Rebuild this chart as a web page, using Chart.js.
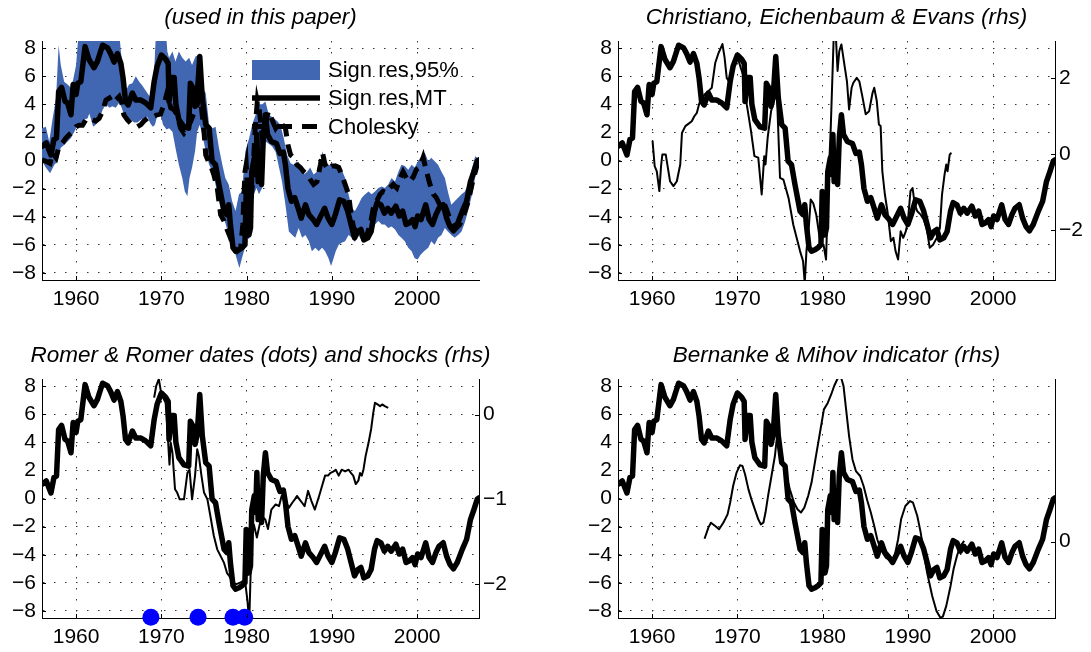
<!DOCTYPE html>
<html><head><meta charset="utf-8">
<script src="https://cdn.jsdelivr.net/npm/chart.js@4.4.1/dist/chart.umd.min.js"></script>
<style>
html,body{margin:0;padding:0;background:#fff;width:1091px;height:652px;overflow:hidden}
canvas{position:absolute}
</style></head><body>
<canvas id="c1" width="521" height="330" style="left:0;top:0"></canvas>
<canvas id="c2" width="509" height="330" style="left:582px;top:0"></canvas>
<canvas id="c3" width="521" height="314" style="left:0;top:338px"></canvas>
<canvas id="c4" width="509" height="314" style="left:582px;top:338px"></canvas>
<script>
// ---------------- data ----------------
const yearTicks = [1960, 1970, 1980, 1990, 2000];
const leftTicks = [-8, -6, -4, -2, 0, 2, 4, 6, 8];
const ceeTicks = [-2, 0, 2];
const romerTicks = [-2, -1, 0];
const bmTicks = [0];

const panelTitles = ['(used in this paper)', 'Christiano, Eichenbaum & Evans (rhs)',
  'Romer & Romer dates (dots) and shocks (rhs)', 'Bernanke & Mihov indicator (rhs)'];
const legendLabels = ['Sign res,95%', 'Sign res,MT', 'Cholesky'];

// Sign restrictions, median target (thick line, all panels)
const mtYears = [1956.0,1956.5,1957.05,1957.4,1957.7,1957.95,1958.3,1958.7,1959.0,1959.4,1959.65,1960.0,1960.2,1960.55,1961.05,1961.5,1962.1,1962.5,1963.1,1963.7,1964.05,1964.45,1964.85,1965.25,1965.5,1965.8,1966.1,1966.6,1967.0,1967.6,1968.15,1968.75,1969.15,1969.5,1970.0,1970.5,1970.8,1970.9,1971.2,1971.5,1971.7,1972.05,1972.65,1973.2,1973.4,1973.7,1973.95,1974.2,1974.5,1974.8,1975.2,1975.6,1975.95,1976.35,1976.75,1977.35,1977.7,1977.9,1978.1,1978.4,1978.7,1979.1,1979.45,1979.8,1979.95,1980.1,1980.27,1980.45,1980.6,1980.9,1981.05,1981.2,1981.35,1981.55,1981.75,1981.95,1982.2,1982.45,1982.9,1983.5,1983.9,1984.3,1984.55,1984.85,1985.25,1985.65,1986.05,1986.4,1986.9,1987.3,1987.8,1988.2,1988.7,1989.15,1989.55,1990.0,1990.4,1990.9,1991.4,1991.85,1992.25,1992.65,1993.05,1993.4,1993.75,1994.2,1994.6,1995.0,1995.3,1995.75,1996.15,1996.55,1996.95,1997.5,1997.9,1998.3,1998.7,1999.05,1999.45,1999.75,2000.05,2000.45,2001.0,2001.4,2001.8,2002.2,2002.55,2003.05,2003.45,2003.85,2004.25,2004.7,2005.3,2005.8,2006.25,2006.65,2007.05,2007.25];
const mtValues = [1.0,1.25,0.4,1.5,1.6,4.9,5.2,4.2,4.1,3.25,5.4,4.7,5.5,5.6,8.1,7.2,6.6,7.05,8.2,8.0,7.6,7.0,7.6,6.9,5.9,4.2,3.95,4.8,4.3,4.3,4.1,3.75,5.6,6.7,7.5,7.2,6.9,4.2,5.9,5.9,4.0,2.9,2.4,2.3,5.5,5.15,3.85,4.55,7.4,4.45,2.55,2.3,-0.05,-0.3,-1.7,-3.6,-3.85,-3.15,-4.6,-6.2,-6.45,-6.35,-6.2,-6.0,-2.2,-2.3,-5.3,-4.8,-0.8,0.2,-1.0,1.85,-1.5,-0.05,-1.7,1.6,3.25,1.85,1.35,1.2,0.5,0.6,-0.3,-2.0,-2.9,-2.65,-3.4,-4.1,-3.15,-3.85,-4.2,-4.55,-3.95,-3.4,-4.1,-4.55,-3.85,-2.8,-2.9,-3.6,-4.55,-5.5,-5.05,-4.9,-5.65,-5.5,-5.05,-3.6,-3.0,-3.15,-3.75,-3.4,-3.75,-3.25,-3.95,-3.6,-4.55,-4.45,-4.2,-4.7,-3.95,-4.2,-3.15,-4.2,-4.55,-3.85,-3.4,-3.15,-4.1,-4.7,-5.0,-4.55,-3.6,-2.9,-1.5,-0.8,-0.05,0.05];

// Cholesky (dashed, panel 1)
const cholYears = [1956.0,1956.45,1956.95,1957.25,1957.65,1957.95,1958.4,1958.8,1959.2,1959.6,1960.0,1960.35,1960.75,1961.15,1961.55,1961.95,1962.3,1962.7,1963.1,1963.5,1963.9,1964.25,1964.65,1965.05,1965.35,1965.6,1966.0,1966.4,1966.8,1967.2,1967.6,1967.95,1968.35,1968.75,1969.15,1969.5,1969.9,1970.3,1970.7,1970.9,1971.1,1971.5,1971.85,1972.25,1972.65,1973.05,1973.45,1973.8,1974.2,1974.5,1974.7,1975.0,1975.2,1975.5,1975.75,1976.15,1976.55,1976.95,1977.35,1977.7,1978.1,1978.5,1978.9,1979.3,1979.55,1979.8,1979.95,1980.2,1980.5,1980.75,1981.0,1981.25,1981.5,1981.85,1982.15,1982.55,1982.9,1983.4,1983.8,1984.15,1984.55,1984.85,1985.15,1985.5,1985.9,1986.3,1986.7,1987.1,1987.45,1987.85,1988.25,1988.65,1988.9,1989.2,1989.6,1990.0,1990.4,1990.8,1991.15,1991.55,1991.95,1992.25,1992.55,1992.9,1993.3,1993.7,1994.1,1994.5,1994.85,1995.25,1995.65,1996.0,1996.4,1996.8,1997.2,1997.6,1998.0,1998.35,1998.75,1999.15,1999.55,1999.9,2000.3,2000.7,2001.1,2001.5,2001.9,2002.25,2002.65,2003.05,2003.4,2003.8,2004.2,2004.6,2005.0,2005.5,2006.0,2006.5,2007.0,2007.25];
const cholValues = [0.05,-0.05,-0.2,0.55,0.2,0.9,1.25,1.6,1.85,2.05,2.4,2.5,2.5,2.9,3.0,2.9,2.8,3.0,3.5,4.3,4.45,4.1,4.3,4.55,4.1,3.25,2.9,2.65,2.55,2.4,2.55,2.8,3.0,3.15,3.15,3.25,3.3,3.95,4.9,4.2,3.75,3.6,3.25,2.3,1.95,2.3,2.8,3.35,3.95,4.55,3.75,2.05,0.4,-0.05,-0.3,-1.0,-1.95,-3.85,-4.3,-4.9,-5.5,-6.2,-6.45,-6.2,-4.55,-0.8,-0.3,-3.4,-3.15,-0.8,2.3,4.2,3.5,1.6,2.55,3.5,3.0,2.3,2.65,2.55,2.3,1.1,0.4,0.2,-0.3,-0.5,-0.8,-1.0,-1.35,-1.7,-1.5,-0.3,0.55,-0.3,-0.65,-0.4,-0.4,-0.5,-1.0,-1.7,-2.4,-3.85,-4.8,-5.05,-5.05,-5.5,-5.3,-4.55,-3.4,-2.9,-2.4,-2.2,-2.3,-1.95,-1.7,-1.95,-1.25,-0.8,-1.25,-1.5,-1.15,-0.65,-0.5,0.2,-0.8,-1.7,-2.4,-2.65,-3.15,-2.9,-3.4,-4.1,-4.55,-4.8,-4.55,-3.8,-2.9,-1.5,-0.4,0.0];

// 95% band, upper and lower edges (panel 1)
const bandUpperYears = [1956.0,1956.45,1956.85,1957.25,1957.65,1957.95,1958.2,1958.6,1959.0,1959.4,1959.65,1960.0,1960.35,1965.0,1965.25,1965.5,1965.8,1966.2,1966.6,1967.0,1967.4,1967.8,1968.35,1968.75,1969.15,1969.4,1970.5,1970.7,1970.9,1971.3,1971.65,1972.05,1972.45,1972.85,1973.25,1973.6,1974.0,1974.4,1974.6,1974.8,1975.2,1975.6,1976.0,1976.35,1976.75,1977.15,1977.5,1977.9,1978.3,1978.7,1979.1,1979.45,1979.85,1980.3,1980.65,1981.05,1981.45,1981.85,1982.2,1982.6,1983.2,1983.6,1983.95,1984.35,1984.75,1985.15,1985.5,1985.9,1986.3,1986.7,1987.1,1987.45,1987.85,1988.25,1988.65,1988.9,1989.2,1989.6,1990.0,1990.4,1990.8,1991.15,1991.55,1991.95,1992.35,1992.7,1993.1,1993.5,1993.9,1994.3,1994.65,1995.05,1995.45,1995.85,1996.2,1996.6,1997.0,1997.4,1997.8,1998.15,1998.55,1998.95,1999.35,1999.7,2000.1,2000.5,2000.9,2001.3,2001.65,2002.05,2002.45,2002.85,2003.25,2003.6,2004.0,2004.4,2004.8,2005.2,2005.6,2006.0,2006.4,2006.8,2007.25];
const bandUpperValues = [2.3,2.4,1.35,3.0,4.45,8.2,6.8,5.6,5.4,5.15,5.75,6.8,9.5,9.5,7.75,6.34,4.9,5.4,5.5,6.0,5.6,5.3,4.8,4.45,6.34,9.5,9.5,7.75,7.3,7.75,7.05,7.75,7.3,7.05,7.3,6.8,7.4,7.5,7.3,5.2,4.8,2.55,2.3,2.4,0.9,-0.3,-1.25,-1.7,-2.9,-3.6,-2.4,-2.2,0.65,1.6,2.55,3.25,4.0,4.0,4.2,3.25,3.0,2.8,2.55,1.6,0.4,-0.2,-0.3,-0.05,-0.5,-1.0,-0.8,-0.5,-1.0,-0.8,-0.3,0.65,-0.05,-0.3,-0.4,-0.2,-0.3,-0.65,-1.25,-2.4,-3.4,-3.6,-3.15,-2.65,-2.4,-2.2,-2.4,-2.2,-1.95,-1.85,-1.95,-1.7,-1.25,-1.5,-0.8,-0.3,-0.4,-0.65,-0.3,-0.5,-0.05,0.3,0.55,-0.05,0.2,-0.05,-0.3,-0.8,-1.25,-2.2,-3.15,-2.9,-2.65,-2.4,-2.2,-1.6,-0.6,0.3,0.1];
const bandLowerYears = [1956.0,1956.45,1956.95,1957.45,1957.85,1958.2,1958.6,1959.0,1959.4,1960.0,1960.35,1960.95,1961.35,1961.55,1962.0,1962.3,1962.7,1963.1,1963.5,1963.9,1964.25,1964.65,1965.05,1965.35,1965.6,1966.0,1966.4,1966.8,1967.2,1967.6,1967.95,1968.35,1968.75,1969.0,1969.25,1969.5,1969.9,1970.2,1970.6,1970.9,1971.3,1971.65,1972.05,1972.45,1972.75,1973.05,1973.3,1973.6,1973.95,1974.2,1974.5,1974.8,1975.2,1975.6,1976.0,1976.35,1976.75,1977.15,1977.5,1977.9,1978.3,1978.7,1979.15,1979.45,1979.8,1980.05,1980.3,1980.6,1980.85,1981.15,1981.45,1981.85,1982.2,1982.6,1983.0,1983.4,1983.8,1984.15,1984.55,1984.95,1985.35,1985.7,1986.1,1986.5,1986.9,1987.3,1987.65,1988.05,1988.45,1988.85,1989.2,1989.6,1989.9,1990.2,1990.45,1990.8,1991.15,1991.55,1991.95,1992.35,1992.7,1993.1,1993.5,1993.9,1994.3,1994.65,1995.05,1995.45,1995.85,1996.2,1996.6,1997.0,1997.4,1997.8,1998.15,1998.55,1998.95,1999.35,1999.7,2000.05,2000.4,2000.8,2001.3,2001.65,2002.05,2002.45,2002.85,2003.25,2003.6,2004.0,2004.4,2004.8,2005.2,2005.6,2006.0,2006.4,2006.8,2007.25];
const bandLowerValues = [-0.05,-0.5,-0.9,-0.3,-0.05,0.9,1.1,1.35,1.6,2.3,2.55,2.9,3.0,3.35,2.4,2.55,2.9,3.6,4.0,3.75,3.85,3.75,4.1,3.75,3.25,3.0,2.9,2.7,2.7,2.9,3.0,3.1,2.6,2.4,2.55,3.15,3.25,2.55,2.2,2.3,2.05,0.9,-0.3,-1.25,-2.2,-2.55,-1.25,-0.5,0.65,2.05,2.55,1.85,0.65,-0.3,-0.8,-1.7,-2.9,-3.85,-4.45,-5.3,-6.0,-6.7,-7.65,-6.95,-6.2,-5.5,-5.6,-1.7,-2.4,-1.95,-2.4,-1.9,1.35,1.2,1.0,0.6,-0.5,-1.5,-3.15,-5.05,-5.3,-5.5,-4.8,-5.5,-5.3,-5.75,-6.45,-6.2,-6.45,-6.2,-6.45,-6.95,-7.5,-6.95,-6.45,-6.0,-5.85,-5.75,-5.3,-5.5,-5.8,-5.3,-5.7,-5.8,-5.6,-5.3,-4.55,-4.3,-4.55,-4.55,-4.8,-4.7,-4.9,-5.3,-5.5,-5.75,-6.2,-6.45,-6.95,-7.05,-6.7,-6.45,-6.2,-5.75,-6.0,-5.5,-5.3,-4.8,-5.05,-5.3,-5.5,-5.3,-5.05,-4.4,-3.5,-2.5,-1.2,-0.3];

// Christiano, Eichenbaum & Evans shocks (rhs, panel 2)
const ceeYears = [1960.05,1960.3,1960.55,1960.85,1961.05,1961.2,1961.6,1961.85,1962.1,1962.5,1962.9,1963.3,1963.5,1963.9,1964.25,1964.65,1964.95,1965.25,1965.5,1965.8,1966.15,1966.6,1967.0,1967.4,1967.8,1968.25,1968.5,1968.75,1969.0,1969.35,1969.65,1970.05,1970.4,1970.8,1971.1,1971.6,1972.0,1972.45,1972.85,1973.15,1973.3,1973.55,1973.95,1974.3,1974.6,1975.0,1975.4,1976.0,1976.55,1976.95,1977.35,1977.7,1977.9,1978.1,1978.4,1978.6,1978.9,1979.25,1979.65,1979.85,1980.1,1980.4,1980.65,1980.95,1981.3,1981.55,1981.75,1981.95,1982.2,1982.55,1982.85,1983.1,1983.4,1983.6,1984.0,1984.3,1984.65,1985.05,1985.45,1985.85,1986.05,1986.35,1986.6,1986.8,1987.0,1987.3,1987.6,1988.0,1988.3,1988.55,1988.85,1989.15,1989.45,1989.75,1990.0,1990.3,1990.55,1990.8,1991.1,1991.5,1991.85,1992.2,1992.55,1992.95,1993.4,1993.75,1994.0,1994.3,1994.5,1994.65,1994.9,1995.1];
const ceeValues = [0.35,-0.32,-0.46,-0.98,-0.32,-0.02,-0.02,-0.37,-0.72,-0.85,-0.72,-0.28,0.55,0.73,0.79,0.86,0.99,1.08,1.3,1.47,1.56,1.65,1.74,2.39,2.66,2.89,2.53,2.0,1.91,2.09,2.35,2.53,2.26,2.0,1.3,0.6,-0.06,-0.1,-1.07,-0.06,-0.28,0.42,1.12,1.4,1.8,-0.63,-0.68,-1.16,-1.86,-2.21,-2.56,-2.82,-3.4,-2.56,-1.86,-1.2,-1.3,-1.6,-2.21,-2.4,-2.39,-2.78,-0.9,0.68,3.1,3.1,2.18,2.7,2.88,2.35,1.91,1.17,1.74,1.87,2.0,1.91,1.52,1.04,1.12,1.6,1.74,1.39,0.77,0.73,-0.46,-1.07,-1.51,-2.3,-2.21,-2.56,-2.78,-2.04,-2.21,-2.04,-1.77,-0.98,-0.9,-1.33,-1.51,-1.6,-1.73,-1.95,-2.47,-2.39,-2.21,-1.95,-1.07,-0.54,-0.28,-0.46,-0.02,0.03];

// Romer & Romer shocks (rhs, panel 3) and dates (dots)
const romerYears = [1969.15,1969.4,1969.7,1969.9,1970.1,1970.5,1970.75,1970.95,1971.1,1971.3,1971.6,1971.85,1972.15,1972.65,1973.05,1973.3,1973.6,1973.95,1974.2,1974.4,1974.7,1975.0,1975.4,1975.75,1976.15,1976.55,1976.95,1977.35,1977.7,1978.0,1978.3,1978.8,1979.3,1979.8,1980.1,1980.3,1980.6,1980.85,1981.2,1981.5,1981.8,1982.2,1982.5,1982.9,1983.4,1983.8,1984.1,1984.5,1984.95,1985.35,1985.65,1985.9,1986.2,1986.5,1986.8,1987.2,1987.6,1988.0,1988.25,1988.5,1988.85,1989.2,1989.55,1989.8,1990.2,1990.45,1990.8,1991.15,1991.55,1991.95,1992.25,1992.5,1992.8,1993.1,1993.3,1993.5,1993.7,1993.95,1994.3,1994.6,1994.85,1995.05,1995.35,1995.65,1995.9,1996.2,1996.6];
const romerValues = [0.2,0.34,0.42,0.3,0.22,0.14,-0.25,-0.59,-0.33,-0.45,-0.88,-0.92,-1.0,-1.0,-0.69,-0.65,-1.0,-0.72,-0.41,-0.49,-0.72,-0.92,-1.0,-1.2,-1.43,-1.59,-1.67,-1.75,-1.87,-1.91,-1.98,-2.0,-1.98,-1.95,-2.2,-2.45,-1.43,-1.3,-1.45,-1.31,-1.2,-1.24,-1.35,-1.12,-1.06,-1.08,-0.96,-1.0,-1.1,-1.04,-1.0,-0.96,-1.0,-1.04,-1.08,-0.9,-1.02,-1.12,-1.04,-0.96,-0.84,-0.72,-0.72,-0.69,-0.67,-0.65,-0.72,-0.65,-0.67,-0.65,-0.69,-0.72,-0.82,-0.78,-0.69,-0.72,-0.65,-0.49,-0.33,-0.17,0.02,0.14,0.12,0.1,0.12,0.1,0.08];
const romerDates = [1968.77, 1974.3, 1978.4, 1979.77];
const romerDateLevel = -8.45;

// Bernanke & Mihov indicator (rhs, panel 4)
const bmYears = [1966.15,1966.6,1966.9,1967.4,1967.85,1968.35,1968.85,1969.15,1969.5,1969.9,1970.3,1970.6,1970.9,1971.3,1971.65,1972.05,1972.45,1972.75,1973.05,1973.3,1973.6,1974.0,1974.4,1974.7,1975.0,1975.4,1975.75,1976.15,1976.65,1977.05,1977.45,1977.85,1978.3,1978.7,1979.15,1979.65,1980.15,1980.6,1981.0,1981.35,1981.75,1982.15,1982.45,1982.75,1983.1,1983.5,1983.9,1984.4,1984.8,1985.25,1985.65,1986.05,1986.4,1986.8,1987.4,1988.0,1988.45,1988.85,1989.2,1989.7,1990.25,1990.6,1991.1,1991.5,1991.85,1992.25,1992.85,1993.35,1993.8,1994.1,1994.5,1995.0,1995.35,1995.75,1996.15,1996.6];
const bmValues = [0.21,1.0,1.35,1.11,0.88,1.35,1.94,2.77,3.96,4.91,5.43,5.38,4.79,3.72,3.01,2.3,1.59,1.23,1.35,2.07,3.25,4.67,6.09,7.75,6.68,5.62,4.67,3.72,2.77,2.3,2.07,2.42,3.25,4.2,5.85,7.63,9.41,9.87,10.47,11.07,11.6,11.7,11.07,9.41,7.51,5.85,5.02,4.67,3.96,2.89,2.07,1.12,0.17,-0.53,-1.13,-1.37,-1.02,0.17,1.59,2.54,2.89,2.77,1.83,0.64,-0.78,-2.2,-3.86,-4.93,-5.4,-5.33,-4.57,-3.15,-1.97,-1.02,-0.31,0.05];

// ---------------- style ----------------
const FONT = '"Liberation Sans", Arial, Helvetica, sans-serif';
const BAND_COLOR = '#4267b2';
const GRID_COLOR = '#333333';
const DOT = [1.5, 9.5];
const X_MIN = 1956, X_MAX = 2007.25;
const LEFT_MIN = -8.5, LEFT_MAX = 8.5;

function pts(xs, ys) { return xs.map((x, i) => ({x: x, y: ys[i]})); }
function fmt(v) { v = Number(v); return v < 0 ? '\u2212' + Math.abs(v) : String(v); }

const tickMarks = {
  id: 'tickMarks',
  afterDraw(chart) {
    const {ctx, chartArea: a, scales} = chart;
    ctx.save();
    ctx.strokeStyle = '#000'; ctx.lineWidth = 1; ctx.setLineDash([]);
    ctx.beginPath();
    scales.x.ticks.forEach(t => { const p = Math.round(scales.x.getPixelForValue(t.value)) + 0.5; ctx.moveTo(p, a.bottom); ctx.lineTo(p, a.bottom - 4); });
    scales.y.ticks.forEach(t => { const p = Math.round(scales.y.getPixelForValue(t.value)) + 0.5; ctx.moveTo(a.left, p); ctx.lineTo(a.left + 4, p); });
    if (scales.y1 && scales.y1.options.border.display) scales.y1.ticks.forEach(t => { const p = Math.round(scales.y1.getPixelForValue(t.value)) + 0.5; ctx.moveTo(a.right, p); ctx.lineTo(a.right - 4, p); });
    ctx.stroke();
    ctx.restore();
  }
};

const insideLegend = {
  id: 'insideLegend',
  afterDraw(chart) {
    const {ctx, chartArea: a} = chart;
    const x0 = a.left + 210, x1 = a.left + 278, tx = a.left + 286;
    const rows = [a.top + 29, a.top + 57, a.top + 85.5];
    ctx.save();
    ctx.fillStyle = BAND_COLOR;
    ctx.fillRect(x0, rows[0] - 10, x1 - x0, 20);
    ctx.strokeStyle = '#000';
    ctx.lineWidth = 5.5; ctx.setLineDash([]);
    ctx.beginPath(); ctx.moveTo(x0, rows[1]); ctx.lineTo(x1, rows[1]); ctx.stroke();
    ctx.lineWidth = 5; ctx.setLineDash([15, 10]);
    ctx.beginPath(); ctx.moveTo(x0, rows[2]); ctx.lineTo(x1, rows[2]); ctx.stroke();
    ctx.setLineDash([]);
    ctx.fillStyle = '#000';
    ctx.font = '22px ' + FONT;
    ctx.textBaseline = 'middle'; ctx.textAlign = 'left';
    legendLabels.forEach((t, i) => ctx.fillText(t, tx, rows[i] + 1));
    ctx.restore();
  }
};

function makeScales(o) {
  const tickFont = {family: FONT, size: 21};
  const s = {
    x: {
      type: 'linear', min: X_MIN, max: X_MAX, position: 'bottom',
      afterBuildTicks: sc => { sc.ticks = yearTicks.map(v => ({value: v})); },
      afterFit: sc => { sc.height = o.xH; },
      ticks: {font: tickFont, color: '#000', padding: 7, autoSkip: false, maxRotation: 0, callback: v => String(v)},
      grid: {color: GRID_COLOR, lineWidth: 1, drawTicks: false},
      border: {display: true, color: '#000', width: 1, dash: DOT}
    },
    y: {
      type: 'linear', position: 'left', min: LEFT_MIN, max: LEFT_MAX,
      afterBuildTicks: sc => { sc.ticks = leftTicks.map(v => ({value: v})); },
      afterFit: sc => { sc.width = o.leftW; },
      ticks: {font: tickFont, color: '#000', padding: 6, autoSkip: false, callback: v => fmt(v)},
      grid: {color: GRID_COLOR, lineWidth: 1, drawTicks: false},
      border: {display: true, color: '#000', width: 1, dash: DOT}
    }
  };
  if (o.right) {
    s.y1 = {
      type: 'linear', position: 'right', min: o.right.min, max: o.right.max,
      afterBuildTicks: sc => { sc.ticks = o.right.ticks.map(v => ({value: v})); },
      afterFit: sc => { sc.width = o.rightW; },
      ticks: {font: tickFont, color: '#000', padding: 4, autoSkip: false, callback: v => fmt(v)},
      grid: {drawOnChartArea: false, drawTicks: false},
      border: {display: true, color: '#000', width: 1}
    };
  } else {
    // empty spacer on the right so the panel keeps the same plot box as the panel below it
    s.y1 = {
      type: 'linear', position: 'right', min: LEFT_MIN, max: LEFT_MAX,
      afterBuildTicks: sc => { sc.ticks = []; },
      afterFit: sc => { sc.width = o.rightW; },
      ticks: {display: false},
      grid: {display: false, drawTicks: false},
      border: {display: false}
    };
  }
  return s;
}

function makeChart(id, o) {
  return new Chart(document.getElementById(id), {
    type: 'line',
    data: {datasets: o.datasets},
    options: {
      responsive: false, animation: false, devicePixelRatio: 1, events: [],
      layout: {padding: 0},
      scales: makeScales(o),
      plugins: {
        legend: {display: false}, tooltip: {enabled: false},
        title: {display: true, text: o.title, color: '#000',
          font: {family: FONT, size: 22.5, style: 'italic', weight: 'normal'},
          padding: {top: 4, bottom: 10}}
      }
    },
    plugins: o.plugins
  });
}

const mtSet = () => ({label: 'Sign res,MT', data: pts(mtYears, mtValues), borderColor: '#000', borderWidth: 5.5,
  pointRadius: 0, fill: false, tension: 0, borderJoinStyle: 'round', borderCapStyle: 'round', order: 2, yAxisID: 'y'});
const thinSet = (label, xs, ys) => ({label: label, data: pts(xs, ys), borderColor: '#000', borderWidth: 2,
  pointRadius: 0, fill: false, tension: 0, borderJoinStyle: 'round', order: 1, yAxisID: 'y1'});

// Panel 1
const bandPolygon = pts(bandUpperYears, bandUpperValues).concat(pts(bandLowerYears, bandLowerValues).reverse());
makeChart('c1', {
  title: panelTitles[0], leftW: 42, rightW: 42, xH: 50,
  datasets: [
    {label: legendLabels[0], data: bandPolygon, fill: 'shape', backgroundColor: BAND_COLOR,
      borderColor: 'rgba(0,0,0,0)', borderWidth: 0, pointRadius: 0, tension: 0, order: 3, yAxisID: 'y'},
    Object.assign(mtSet(), {label: legendLabels[1]}),
    {label: legendLabels[2], data: pts(cholYears, cholValues), borderColor: '#000', borderWidth: 5,
      borderDash: [13, 8], borderCapStyle: 'butt', pointRadius: 0, fill: false, tension: 0, order: 1, yAxisID: 'y'}
  ],
  plugins: [tickMarks, insideLegend]
});

// Panel 2
makeChart('c2', {
  title: panelTitles[1], leftW: 36, rightW: 36, xH: 50,
  right: {min: -3.32, max: 2.97, ticks: ceeTicks},
  datasets: [mtSet(), thinSet('Christiano, Eichenbaum & Evans', ceeYears, ceeValues)],
  plugins: [tickMarks]
});

// Panel 3
makeChart('c3', {
  title: panelTitles[2], leftW: 42, rightW: 42, xH: 34,
  right: {min: -2.40, max: 0.42, ticks: romerTicks},
  datasets: [
    {label: 'Romer & Romer dates', data: romerDates.map(d => ({x: d, y: romerDateLevel})), showLine: false,
      pointRadius: 8.5, pointBackgroundColor: '#0000ff', pointBorderColor: '#0000ff', pointBorderWidth: 0,
      clip: false, order: 0, yAxisID: 'y'},
    mtSet(), thinSet('Romer & Romer shocks', romerYears, romerValues)
  ],
  plugins: [tickMarks]
});

// Panel 4
makeChart('c4', {
  title: panelTitles[3], leftW: 36, rightW: 36, xH: 34,
  right: {min: -5.43, max: 11.57, ticks: bmTicks},
  datasets: [mtSet(), thinSet('Bernanke & Mihov indicator', bmYears, bmValues)],
  plugins: [tickMarks]
});
</script>
</body></html>
